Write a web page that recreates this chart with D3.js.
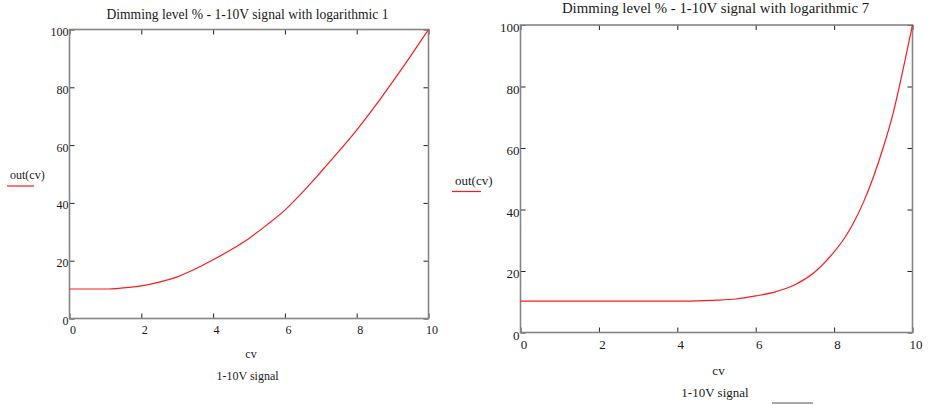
<!DOCTYPE html>
<html>
<head>
<meta charset="utf-8">
<script src="https://cdn.jsdelivr.net/npm/d3@7"></script>
<style>
  body { margin: 0; background: #fff; }
  text { font-family: "Liberation Serif", "DejaVu Serif", serif; fill: #1a1a1a; }
</style>
</head>
<body>
<div id="chart"></div>
<script>
// control voltage samples and dimming output
var cvLog1 = [0, 0.5, 1, 1.5, 2, 2.5, 3, 3.5, 4, 4.5, 5, 5.5, 6, 6.5, 7, 7.5, 8, 8.5, 9, 9.5, 10];
var outLog1 = [10.2, 10.2, 10.2, 10.6, 11.3, 12.6, 14.4, 17.1, 20.3, 23.8, 27.7, 32.4, 37.5, 43.8, 50.7, 57.8, 65.2, 73.3, 81.9, 90.8, 100];

var cvLog7 = [0, 0.5, 1, 1.5, 2, 2.5, 3, 3.5, 4, 4.5, 5, 5.5, 6, 6.5, 7, 7.5, 8, 8.25, 8.5, 8.75, 9, 9.25, 9.5, 9.75, 10];
var outLog7 = [10.2, 10.2, 10.2, 10.2, 10.2, 10.2, 10.2, 10.2, 10.2, 10.3, 10.5, 10.9, 11.9, 13.2, 15.5, 19.6, 26.2, 30.4, 35.8, 42.4, 50.5, 60, 71, 85, 100];

var xTicks = [0, 2, 4, 6, 8, 10];
var yTicks = [0, 20, 40, 60, 80, 100];

var w = 928;
var h = 405;

var svg = d3.select("#chart")
    .append("svg")
    .attr("width", w)
    .attr("height", h);

function drawPlot(opt) {
    var data = opt.cv.map(function (d, i) {
        return [d, opt.out[i]];
    });

    var scaleX = d3.scaleLinear().domain([0, 10]).range([opt.left, opt.right]);
    var scaleY = d3.scaleLinear().domain([0, 100]).range([opt.bottom, opt.top]);

    var g = svg.append("g");

    // inner ticks on all four sides
    var sides = [
        [d3.axisBottom(scaleX).tickValues(xTicks).tickSize(-5), "translate(0," + opt.bottom + ")", true],
        [d3.axisTop(scaleX).tickValues(xTicks).tickSize(-5), "translate(0," + opt.top + ")", false],
        [d3.axisLeft(scaleY).tickValues(yTicks).tickSize(-5), "translate(" + opt.left + ",0)", true],
        [d3.axisRight(scaleY).tickValues(yTicks).tickSize(-5), "translate(" + opt.right + ",0)", false]
    ];
    sides.forEach(function (s, i) {
        var a = g.append("g")
            .attr("transform", s[1])
            .call(s[0].tickPadding(0));
        a.select(".domain").remove();
        a.selectAll(".tick line").attr("stroke", "#222").attr("stroke-width", 1);
        if (!s[2]) {
            a.selectAll(".tick text").remove();
        } else {
            a.selectAll(".tick text")
                .attr("font-size", opt.fs)
                .attr("fill", "#1a1a1a");
        }
        if (i == 0) {
            a.selectAll(".tick text").attr("dx", 3).attr("y", 0).attr("dy", opt.xdy);
        }
        if (i == 2) {
            a.selectAll(".tick text").attr("x", -1).attr("dy", opt.ydy);
        }
    });

    // gray frame
    g.append("rect")
        .attr("x", opt.left)
        .attr("y", opt.top)
        .attr("width", opt.right - opt.left)
        .attr("height", opt.bottom - opt.top)
        .attr("fill", "none")
        .attr("stroke", "#858585")
        .attr("stroke-width", 1.6);

    var line = d3.line()
        .x(function (d) { return scaleX(d[0]); })
        .y(function (d) { return scaleY(d[1]); })
        .curve(d3.curveMonotoneX);

    g.append("path")
        .datum(data)
        .attr("d", line)
        .attr("fill", "none")
        .attr("stroke", "#ff1a1a")
        .attr("stroke-width", 1.2);

    g.append("text")
        .attr("x", opt.titleX)
        .attr("y", opt.titleY)
        .attr("text-anchor", "middle")
        .attr("font-size", opt.tfs)
        .text(opt.title);

    g.append("text")
        .attr("x", opt.cvX)
        .attr("y", opt.cvY)
        .attr("text-anchor", "middle")
        .attr("font-size", opt.fs)
        .text("cv");

    g.append("text")
        .attr("x", opt.sigX)
        .attr("y", opt.sigY)
        .attr("text-anchor", "middle")
        .attr("font-size", opt.fs)
        .text("1-10V signal");

    // legend
    g.append("text")
        .attr("x", opt.legX)
        .attr("y", opt.legY)
        .attr("font-size", opt.fs)
        .text("out(cv)");
    g.append("line")
        .attr("x1", opt.legX - 3)
        .attr("x2", opt.legX + opt.legW)
        .attr("y1", opt.legY + 7)
        .attr("y2", opt.legY + 7)
        .attr("stroke", "#ff1a1a")
        .attr("stroke-width", 1.2);
}

drawPlot({
    cv: cvLog1, out: outLog1,
    left: 69.5, right: 428.5, top: 29.5, bottom: 318.5,
    fs: 12, tfs: 13.6, xdy: 15.5, ydy: 6,
    title: "Dimming level % - 1-10V signal with logarithmic 1",
    titleX: 247.5, titleY: 18.5,
    cvX: 251, cvY: 357.5,
    sigX: 247.5, sigY: 379.5,
    legX: 10, legY: 179, legW: 24
});

drawPlot({
    cv: cvLog7, out: outLog7,
    left: 520.5, right: 912.5, top: 25, bottom: 332.5,
    fs: 13, tfs: 14.8, xdy: 16.8, ydy: 6.5,
    title: "Dimming level % - 1-10V signal with logarithmic 7",
    titleX: 715.5, titleY: 13,
    cvX: 718.5, cvY: 374.5,
    sigX: 715, sigY: 397,
    legX: 455, legY: 184.5, legW: 26
});

// small selection mark under the right caption
svg.append("rect")
    .attr("x", 772)
    .attr("y", 402)
    .attr("width", 41)
    .attr("height", 2)
    .attr("fill", "#a8a8a8");
</script>
</body>
</html>
